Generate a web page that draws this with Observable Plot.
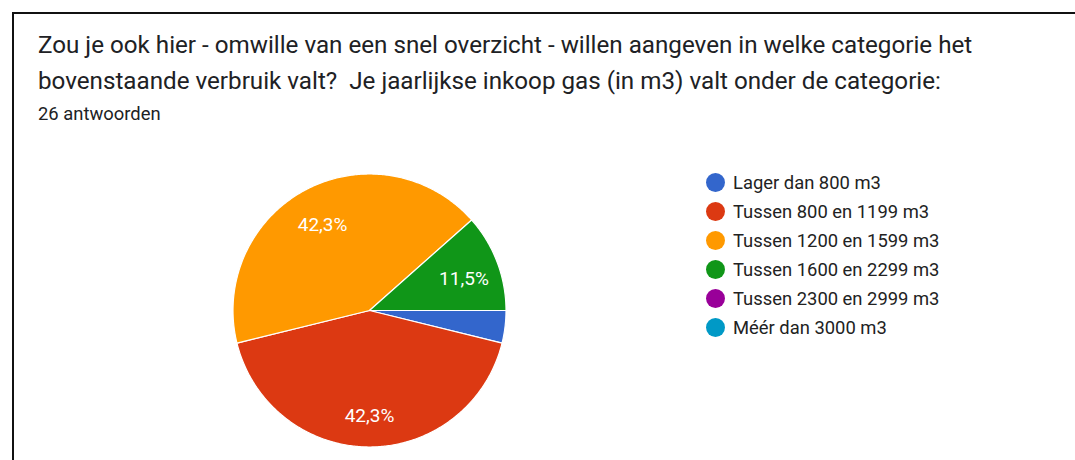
<!DOCTYPE html>
<html><head><meta charset="utf-8">
<script src="https://cdn.jsdelivr.net/npm/d3@7"></script>
<script src="https://cdn.jsdelivr.net/npm/@observablehq/plot@0.6"></script>
<style>
body{margin:0;width:1075px;height:460px;overflow:hidden;background:#fff;font-family:Roboto,Arial,sans-serif;color:#202124;position:relative}
#frame{position:absolute;left:12px;top:12px;width:1100px;height:500px;border-left:2px solid #111;border-top:2px solid #111}
#title{position:absolute;left:38px;top:27px;font-size:24.2px;line-height:36px;width:1030px;white-space:nowrap}
#sub{position:absolute;left:38px;top:104px;font-size:18.4px;line-height:20px}
#chart{position:absolute;left:0;top:130px}
#legend{position:absolute;left:706px;top:168px}
.row{display:flex;align-items:center;height:29px;font-size:18.4px;color:#222}
.sw{width:19px;height:19px;border-radius:50%;margin-right:8px;flex:none}
</style></head>
<body>
<div id="frame"></div>
<div id="title">Zou je ook hier - omwille van een snel overzicht - willen aangeven in welke categorie het<br>bovenstaande verbruik valt?&nbsp; Je jaarlijkse inkoop gas (in m3) valt onder de categorie:</div>
<div id="sub">26 antwoorden</div>
<div id="chart"></div>
<div id="legend"></div>
<script>
const categories = ["Lager dan 800 m3","Tussen 800 en 1199 m3","Tussen 1200 en 1599 m3","Tussen 1600 en 2299 m3","Tussen 2300 en 2999 m3","Méér dan 3000 m3"];
const counts = [1, 11, 11, 3, 0, 0];
const colors = ["#3366cc","#dc3912","#ff9900","#109618","#990099","#0099c6"];

const total = d3.sum(counts);
const arcs = d3.pie().sort(null).startAngle(Math.PI/2).endAngle(Math.PI/2 + 2*Math.PI)(counts)
  .map((a, i) => ({...a, cat: categories[i]}))
  .filter(a => a.value > 0);

const pts = [];
for (const a of arcs) {
  pts.push({cat: a.cat, x: 0, y: 0});
  const n = Math.max(2, Math.ceil((a.endAngle - a.startAngle) / 0.01));
  for (let k = 0; k <= n; k++) {
    const t = a.startAngle + (a.endAngle - a.startAngle) * k / n;
    pts.push({cat: a.cat, x: Math.sin(t), y: Math.cos(t)});
  }
}
const labels = arcs.filter(a => a.value / total > 0.05).map(a => {
  const m = (a.startAngle + a.endAngle) / 2;
  return {x: 0.74 * Math.sin(m), y: 0.74 * Math.cos(m),
          text: (a.value / total * 100).toFixed(1).replace(".", ",") + "%"};
});

const chart = Plot.plot({
  width: 1075, height: 330, margin: 0,
  x: {domain: [-1, 1], range: [232.5, 505.5], axis: null},
  y: {domain: [-1, 1], range: [316.5, 43.5], axis: null},
  color: {domain: categories, range: colors},
  style: {fontFamily: "Roboto, Arial, sans-serif", background: "transparent"},
  marks: [
    Plot.line(pts, {x: "x", y: "y", z: "cat", fill: "cat", stroke: "white", strokeWidth: 1.2, curve: "linear-closed"}),
    Plot.text(labels, {x: "x", y: "y", dy: 4, text: "text", fill: "white", fontSize: 19})
  ]
});
document.getElementById("chart").appendChild(chart);

const leg = document.getElementById("legend");
categories.forEach((c, i) => {
  const r = document.createElement("div"); r.className = "row";
  const s = document.createElement("span"); s.className = "sw"; s.style.background = colors[i];
  const t = document.createElement("span"); t.textContent = c;
  r.appendChild(s); r.appendChild(t); leg.appendChild(r);
});
</script>
</body></html>
